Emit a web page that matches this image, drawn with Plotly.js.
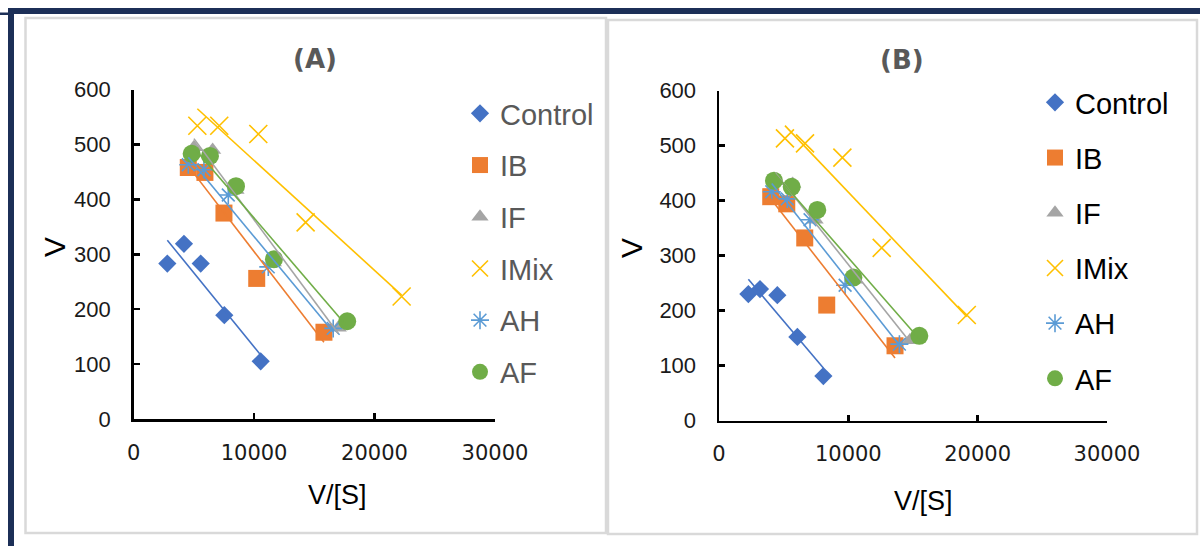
<!DOCTYPE html>
<html>
<head>
<meta charset="utf-8">
<script src="https://cdn.plot.ly/plotly-3.0.1.min.js"></script>
<style>html,body{margin:0;padding:0;background:#fff;}#chart{width:1200px;height:546px;}</style>
</head>
<body>
<div id="chart"></div>
<script>
// ---- Data ----
const seriesNames = ["Control", "IB", "IF", "IMix", "AH", "AF"];

// Panel (A)
const A_Control_x = [2800, 4180, 5570, 7530, 10550];
const A_Control_y = [283, 319, 283, 189, 105];
const A_IB_x = [4540, 5920, 7500, 10220, 15800];
const A_IB_y = [458, 449, 375, 256, 158];
const A_IF_x = [5010, 6560, 8500, 11600, 16990];
const A_IF_y = [495, 490, 417, 285, 166];
const A_IMix_x = [5290, 7110, 10350, 14280, 22250];
const A_IMix_y = [534, 534, 519, 358, 223];
const A_AH_x = [4540, 5840, 7860, 11180, 16570];
const A_AH_y = [463, 454, 408, 277, 165];
const A_AF_x = [4820, 6340, 8500, 11650, 17730];
const A_AF_y = [483, 479, 424, 291, 178];

// Panel (B)
const B_Control_x = [2270, 3170, 4510, 6060, 8070];
const B_Control_y = [230, 239, 228, 152, 81];
const B_IB_x = [4000, 5240, 6630, 8330, 13610];
const B_IB_y = [407, 394, 332, 210, 136];
const B_IF_x = [4330, 5700, 7430, 10520, 14770];
const B_IF_y = [435, 430, 365, 256, 146];
const B_IMix_x = [5100, 6650, 9540, 12580, 19160];
const B_IMix_y = [513, 504, 478, 314, 192];
const B_AH_x = [4080, 5280, 7040, 9750, 13950];
const B_AH_y = [416, 403, 365, 246, 139];
const B_AF_x = [4250, 5620, 7600, 10390, 15490];
const B_AF_y = [436, 425, 383, 260, 154];

const xTickVals = [0, 10000, 20000, 30000];
const yTickVals = [0, 100, 200, 300, 400, 500, 600];

// ---- Styles ----
const colors = {Control:"#4472C4", IB:"#ED7D31", IF:"#A5A5A5", IMix:"#FFC000", AH:"#5B9BD5", AF:"#70AD47"};
function markerFor(name){
  const c = colors[name];
  switch(name){
    case "Control": return {symbol:"diamond", size:14, color:c};
    case "IB": return {symbol:"square", size:17, color:c};
    case "IF": return {symbol:"triangle-up", size:15, color:c};
    case "IMix": return {symbol:"x-thin-open", size:18, color:c, line:{color:c, width:1.6}};
    case "AH": return {symbol:"asterisk-open", size:15, color:c, line:{color:c, width:1.6}};
    case "AF": return {symbol:"circle", size:18, color:c};
  }
}

function linreg(xs, ys){
  const n = xs.length;
  const mx = xs.reduce((a,b)=>a+b,0)/n, my = ys.reduce((a,b)=>a+b,0)/n;
  let sxy=0, sxx=0;
  for(let i=0;i<n;i++){ sxy += (xs[i]-mx)*(ys[i]-my); sxx += (xs[i]-mx)*(xs[i]-mx); }
  const m = sxy/sxx, b = my - m*mx;
  const x0 = Math.min(...xs), x1 = Math.max(...xs);
  return {x:[x0,x1], y:[m*x0+b, m*x1+b]};
}

const panelData = {
  A: {Control:[A_Control_x,A_Control_y], IB:[A_IB_x,A_IB_y], IF:[A_IF_x,A_IF_y], IMix:[A_IMix_x,A_IMix_y], AH:[A_AH_x,A_AH_y], AF:[A_AF_x,A_AF_y]},
  B: {Control:[B_Control_x,B_Control_y], IB:[B_IB_x,B_IB_y], IF:[B_IF_x,B_IF_y], IMix:[B_IMix_x,B_IMix_y], AH:[B_AH_x,B_AH_y], AF:[B_AF_x,B_AF_y]}
};

const traces = [];
[["A","x","y","legend"],["B","x2","y2","legend2"]].forEach(([p,xa,ya,lg])=>{
  seriesNames.forEach(name=>{
    const [xs,ys] = panelData[p][name];
    traces.push({type:"scatter", mode:"markers", name:name, x:xs, y:ys, xaxis:xa, yaxis:ya,
      marker:markerFor(name), legend:lg, legendgroup:p+name, cliponaxis:false, hoverinfo:"skip"});
  });
  seriesNames.forEach(name=>{
    const [xs,ys] = panelData[p][name];
    const t = linreg(xs,ys);
    traces.push({type:"scatter", mode:"lines", x:t.x, y:t.y, xaxis:xa, yaxis:ya, showlegend:false,
      line:{color:colors[name], width:1.6}, cliponaxis:false, hoverinfo:"skip"});
  });
});

// ---- Layout helpers (pixel -> paper) ----
const W = 1200, H = 546;
const px = v => v/W, py = v => 1 - v/H;

function axisX(domain){
  return {range:[0,30000], domain:domain, tickvals:xTickVals, ticktext:xTickVals.map(String),
    showgrid:false, zeroline:false, showline:true, linecolor:"#000", linewidth:2.5,
    ticks:"inside", ticklen:6, tickwidth:2.5, tickcolor:"#000", ticklabelstandoff:13,
    tickfont:{family:"DejaVu Sans", size:21, color:"#1a1a1a"}, fixedrange:true};
}
function axisY(domain){
  return {range:[0,600], domain:domain, tickvals:yTickVals, ticktext:yTickVals.map(String),
    showgrid:false, zeroline:false, showline:true, linecolor:"#000", linewidth:2.5,
    ticks:"inside", ticklen:6, tickwidth:2.5, tickcolor:"#000", ticklabelstandoff:16,
    tickfont:{family:"Liberation Sans", size:22, color:"#1a1a1a"}, fixedrange:true};
}

const navy = "#1c2f57";
const shapes = [
  {type:"rect", xref:"paper", yref:"paper", x0:px(25.5), x1:px(606), y0:py(18), y1:py(533), line:{color:"#d9d9d9", width:2.5}, layer:"below"},
  {type:"rect", xref:"paper", yref:"paper", x0:px(608), x1:px(1197), y0:py(20), y1:py(534), line:{color:"#d9d9d9", width:2.5}, layer:"below"},
  {type:"rect", xref:"paper", yref:"paper", x0:px(8), x1:px(1200), y0:py(8), y1:py(14), fillcolor:navy, line:{width:0}},
  {type:"rect", xref:"paper", yref:"paper", x0:px(8), x1:px(14), y0:py(8), y1:py(546), fillcolor:navy, line:{width:0}},
  {type:"rect", xref:"paper", yref:"paper", x0:px(0), x1:px(8), y0:py(12.5), y1:py(15), fillcolor:navy, line:{width:0}}
];

const ann = (text, x, y, font, extra) => Object.assign({text:text, xref:"paper", yref:"paper", x:px(x), y:py(y),
  xanchor:"center", yanchor:"middle", showarrow:false, font:font}, extra||{});
const annotations = [
  ann("(A)", 315, 59, {family:"DejaVu Sans", size:26, color:"#595959", weight:"bold"}),
  ann("(B)", 902, 60, {family:"DejaVu Sans", size:26, color:"#595959", weight:"bold"}),
  ann("V", 55, 247, {family:"Liberation Sans", size:30, color:"#000"}, {textangle:-90}),
  ann("V", 632, 248, {family:"Liberation Sans", size:30, color:"#000"}, {textangle:-90}),
  ann("V/[S]", 337, 495, {family:"Liberation Sans", size:27, color:"#000"}),
  ann("V/[S]", 923, 501, {family:"Liberation Sans", size:27, color:"#000"})
];

const layout = {
  width:W, height:H, autosize:false,
  margin:{l:0, r:0, t:0, b:0, pad:0},
  paper_bgcolor:"#fff", plot_bgcolor:"rgba(0,0,0,0)",
  showlegend:true,
  xaxis: axisX([px(133.6), px(495)]),
  yaxis: axisY([py(419), py(89.5)]),
  xaxis2: Object.assign(axisX([px(719), px(1107)]), {anchor:"y2"}),
  yaxis2: Object.assign(axisY([py(420.6), py(90.5)]), {anchor:"x2"}),
  legend: {x:px(460), y:py(88), xanchor:"left", yanchor:"top", bgcolor:"rgba(0,0,0,0)",
    font:{family:"Liberation Sans", size:29, color:"#595959"}, tracegroupgap:11, itemclick:false, itemdoubleclick:false},
  legend2: {x:px(1035), y:py(77), xanchor:"left", yanchor:"top", bgcolor:"rgba(0,0,0,0)",
    font:{family:"Liberation Sans", size:29, color:"#000"}, tracegroupgap:14.5, itemclick:false, itemdoubleclick:false},
  shapes:shapes, annotations:annotations
};
layout.xaxis.anchor = "y";
layout.yaxis.anchor = "x";

Plotly.newPlot("chart", traces, layout, {staticPlot:true, displayModeBar:false});
</script>
</body>
</html>
